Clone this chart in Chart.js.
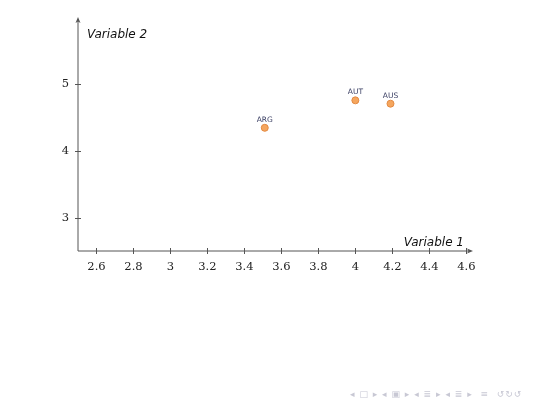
<!DOCTYPE html>
<html>
<head>
<meta charset="utf-8">
<script src="https://cdn.jsdelivr.net/npm/chart.js@4"></script>
<style>
  html, body { margin: 0; padding: 0; background: #fff; }
  #wrap { position: relative; width: 540px; height: 405px; }
  #nav { position: absolute; left: 350px; top: 389px; font: 9px "DejaVu Sans"; color: #c8c8d4; letter-spacing: 1px; white-space: nowrap; }
</style>
</head>
<body>
<div id="wrap">
  <canvas id="scatter" width="540" height="405"></canvas>
  <div id="nav">◂ □ ▸ ◂ ▣ ▸ ◂ ≣ ▸ ◂ ≣ ▸ &nbsp;≡ &nbsp;↺↻↺</div>
</div>
<script>
const countries = ["ARG", "AUT", "AUS"];
const variable1 = [3.51, 4.0, 4.19];
const variable2 = [4.34, 4.75, 4.7];
const xTicks = [2.6, 2.8, 3, 3.2, 3.4, 3.6, 3.8, 4, 4.2, 4.4, 4.6];
const yTicks = [3, 4, 5];

const axisColor = "#555";

const points = variable1.map((v, i) => ({ x: v, y: variable2[i] }));

// axis arrows, crossing tick marks, titles and point labels
const decorations = {
  id: "decorations",
  afterDraw(chart) {
    const ctx = chart.ctx;
    const area = chart.chartArea;
    const xs = chart.scales.x;
    const ys = chart.scales.y;
    ctx.save();
    ctx.strokeStyle = axisColor;
    ctx.fillStyle = axisColor;
    ctx.lineWidth = 1;

    ctx.beginPath();
    ctx.moveTo(area.left, area.bottom);
    ctx.lineTo(area.right, area.bottom);
    ctx.moveTo(area.left, area.bottom);
    ctx.lineTo(area.left, area.top);
    xTicks.forEach((t) => {
      const px = Math.round(xs.getPixelForValue(t)) + 0.5;
      ctx.moveTo(px, area.bottom - 3);
      ctx.lineTo(px, area.bottom + 3);
    });
    yTicks.forEach((t) => {
      const py = Math.round(ys.getPixelForValue(t)) + 0.5;
      ctx.moveTo(area.left - 3, py);
      ctx.lineTo(area.left + 3, py);
    });
    ctx.stroke();

    // arrow heads
    ctx.beginPath();
    ctx.moveTo(area.right + 3, area.bottom);
    ctx.lineTo(area.right - 3, area.bottom - 2.5);
    ctx.lineTo(area.right - 1.5, area.bottom);
    ctx.lineTo(area.right - 3, area.bottom + 2.5);
    ctx.closePath();
    ctx.fill();
    ctx.beginPath();
    ctx.moveTo(area.left, area.top - 3);
    ctx.lineTo(area.left - 2.5, area.top + 3);
    ctx.lineTo(area.left, area.top + 1.5);
    ctx.lineTo(area.left + 2.5, area.top + 3);
    ctx.closePath();
    ctx.fill();

    // titles
    ctx.fillStyle = "#111";
    ctx.font = "italic 12px 'DejaVu Sans'";
    ctx.textBaseline = "alphabetic";
    ctx.textAlign = "left";
    ctx.fillText("Variable 2", area.left + 9, area.top + 18);
    ctx.textAlign = "right";
    ctx.fillText("Variable 1", area.right - 6, area.bottom - 5);

    // point labels
    ctx.fillStyle = "#3e4266";
    ctx.font = "7.5px 'DejaVu Sans'";
    ctx.textAlign = "center";
    const meta = chart.getDatasetMeta(0);
    meta.data.forEach((el, i) => {
      ctx.fillText(countries[i], el.x, el.y - 6);
    });
    ctx.restore();
  },
};

new Chart(document.getElementById("scatter"), {
  type: "scatter",
  data: {
    datasets: [{
      data: points,
      backgroundColor: "#f5a65e",
      borderColor: "#e38a42",
      borderWidth: 1,
      pointRadius: 3.5,
    }],
  },
  options: {
    responsive: false,
    animation: false,
    layout: { padding: { left: 0, top: 20, right: 70, bottom: 0 } },
    plugins: { legend: { display: false }, tooltip: { enabled: false } },
    scales: {
      x: {
        type: "linear",
        min: 2.5,
        max: 4.62,
        afterBuildTicks: (scale) => { scale.ticks = xTicks.map((v) => ({ value: v })); },
        afterFit: (scale) => { scale.height = 154; },
        grid: { display: false },
        border: { display: false },
        ticks: {
          padding: 1,
          color: "#222",
          font: { family: "'DejaVu Serif'", size: 11.5 },
          maxRotation: 0,
          autoSkip: false,
          callback: (v) => String(v),
        },
      },
      y: {
        type: "linear",
        min: 2.5,
        max: 5.95,
        afterBuildTicks: (scale) => { scale.ticks = yTicks.map((v) => ({ value: v })); },
        afterFit: (scale) => { scale.width = 78; },
        grid: { display: false },
        border: { display: false },
        ticks: {
          padding: 1,
          color: "#222",
          font: { family: "'DejaVu Serif'", size: 11.5 },
          callback: (v) => String(v),
        },
      },
    },
  },
  plugins: [decorations],
});
</script>
</body>
</html>
